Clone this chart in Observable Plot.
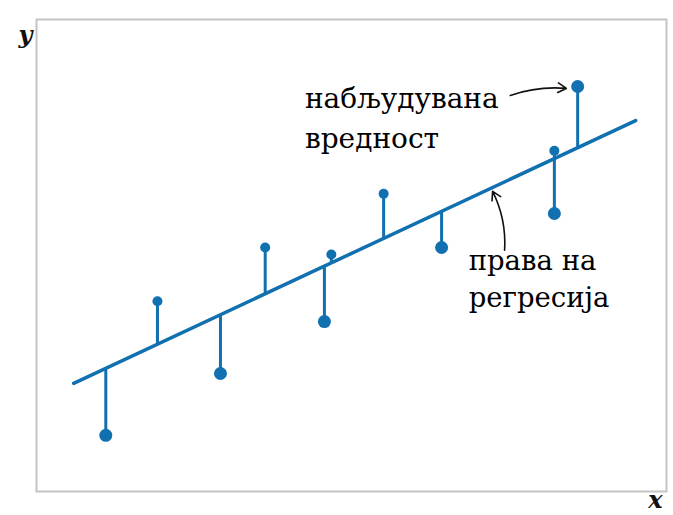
<!DOCTYPE html>
<html>
<head>
<meta charset="utf-8">
<script src="https://cdn.jsdelivr.net/npm/d3@7"></script>
<script src="https://cdn.jsdelivr.net/npm/@observablehq/plot@0.6"></script>
<style>
  html, body { margin: 0; padding: 0; background: #fff; }
  #chart svg { display: block; }
</style>
</head>
<body>
<div id="chart"></div>
<script>
// Observations
const obsX = [1.10, 1.92, 2.92, 3.63, 4.57, 4.68, 5.51, 6.43, 8.22, 8.22, 8.59];
const obsY = [1.19, 4.03, 2.50, 5.17, 3.60, 5.02, 6.31, 5.17, 7.22, 5.89, 8.58];
const marker = ["large", "small", "large", "small", "large", "small", "small", "large", "small", "large", "large"];

// Regression line
const intercept = 1.924;
const slope = 0.624;
const lineXs = [0.59, 9.51];

// Labels
const observedLabel = ["набљудувана", "вредност"];
const regressionLabel = ["права на", "регресија"];
const axisXLabel = "x";
const axisYLabel = "y";

const blue = "#1170b0";
const points = obsX.map((x, i) => ({x, y: obsY[i], fit: intercept + slope * x, m: marker[i]}));
const lineData = lineXs.map(x => ({x, y: intercept + slope * x}));

const serif = "DejaVu Serif, Liberation Serif, serif";

const chart = Plot.plot({
  width: 673,
  height: 515,
  marginLeft: 36,
  marginRight: 7,
  marginTop: 19,
  marginBottom: 24,
  x: {domain: [0, 10], axis: null},
  y: {domain: [0, 10], axis: null},
  style: {background: "#fff", overflow: "visible"},
  marks: [
    Plot.frame({stroke: "#c4c4c4", strokeWidth: 2}),
    Plot.ruleX(points, {x: "x", y1: "fit", y2: "y", stroke: blue, strokeWidth: 3}),
    Plot.line(lineData, {x: "x", y: "y", stroke: blue, strokeWidth: 3.5, strokeLinecap: "round"}),
    Plot.dot(points.filter(d => d.m === "large"), {x: "x", y: "y", r: 6.5, fill: blue, stroke: "none"}),
    Plot.dot(points.filter(d => d.m === "small"), {x: "x", y: "y", r: 5, fill: blue, stroke: "none"}),
    Plot.text([observedLabel.join("\n")], {x: 4.26, y: 7.27, text: d => d, textAnchor: "start", lineAnchor: "bottom", fontSize: 28, fontFamily: serif, lineHeight: 1.43, fill: "#000"}),
    Plot.text([regressionLabel.join("\n")], {x: 6.86, y: 3.90, text: d => d, textAnchor: "start", lineAnchor: "bottom", fontSize: 27.5, fontFamily: serif, lineHeight: 1.345, fill: "#000"}),
    Plot.arrow([0], {x1: 7.52, y1: 8.39, x2: 8.41, y2: 8.54, bend: 12, stroke: "#111", strokeWidth: 1.6, headLength: 9}),
    Plot.arrow([0], {x1: 7.43, y1: 5.11, x2: 7.24, y2: 6.36, bend: -15, stroke: "#111", strokeWidth: 1.6, headLength: 9}),
    Plot.text([axisYLabel], {frameAnchor: "top-left", dx: -18, dy: 6, text: d => d, fontSize: 24, fontWeight: "bold", fontStyle: "italic", fontFamily: serif, fill: "#111"}),
    Plot.text([axisXLabel], {frameAnchor: "bottom-right", dx: -4, dy: 16, text: d => d, fontSize: 24, fontWeight: "bold", fontStyle: "italic", fontFamily: serif, fill: "#111"})
  ]
});
document.getElementById("chart").appendChild(chart);
</script>
</body>
</html>
